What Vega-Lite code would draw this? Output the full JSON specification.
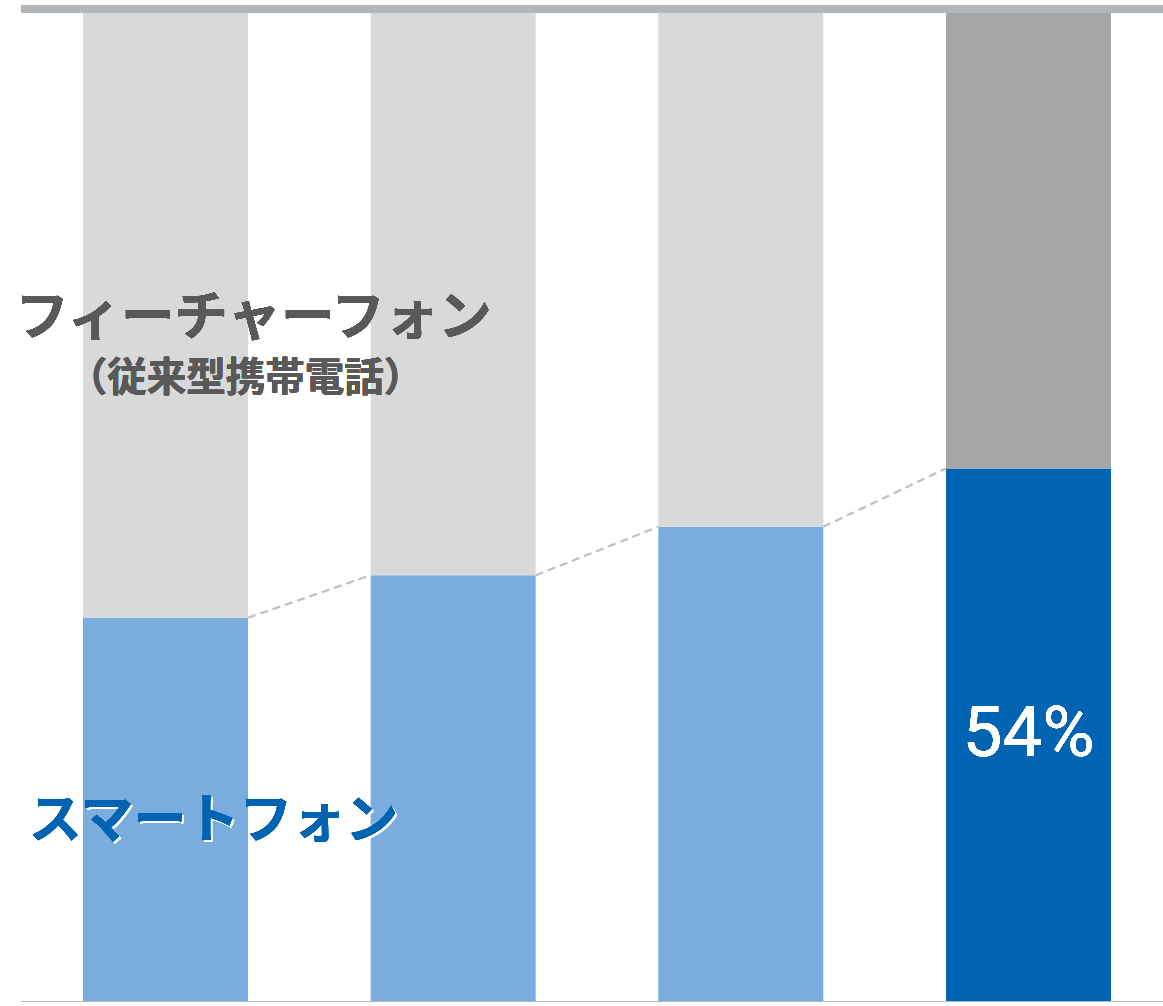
{
  "$schema": "https://vega.github.io/schema/vega-lite/v6.json",
  "width": 1152,
  "height": 989,
  "autosize": {"type": "none"},
  "padding": {"left": 21, "top": 12.5, "right": 0, "bottom": 0},
  "background": "white",
  "view": {"stroke": null},
  "datasets": {
    "shares": [
      {"period": "1", "type": "スマートフォン", "share": 38.8},
      {"period": "1", "type": "フィーチャーフォン", "share": 61.2},
      {"period": "2", "type": "スマートフォン", "share": 43.1},
      {"period": "2", "type": "フィーチャーフォン", "share": 56.9},
      {"period": "3", "type": "スマートフォン", "share": 48.0},
      {"period": "3", "type": "フィーチャーフォン", "share": 52.0},
      {"period": "4", "type": "スマートフォン", "share": 53.9},
      {"period": "4", "type": "フィーチャーフォン", "share": 46.1}
    ],
    "links": [
      {"from": "1", "to": "2", "a": 38.8, "b": 43.1},
      {"from": "2", "to": "3", "a": 43.1, "b": 48.0},
      {"from": "3", "to": "4", "a": 48.0, "b": 53.9}
    ]
  },
  "data": {"name": "shares"},
  "encoding": {
    "x": {
      "field": "period", "type": "nominal",
      "scale": {"domain": ["1", "2", "3", "4"], "paddingInner": 0.4264, "paddingOuter": 0.2155},
      "axis": null
    }
  },
  "layer": [
    {
      "mark": {"type": "bar"},
      "encoding": {
        "y": {"field": "share", "type": "quantitative", "stack": "zero", "scale": {"domain": [0, 100], "nice": false}, "axis": null},
        "detail": {"field": "type"},
        "order": {"field": "type", "sort": "ascending"},
        "fill": {
          "condition": [
            {"test": "datum.period == '4' && datum.type == 'スマートフォン'", "value": "#0064B2"},
            {"test": "datum.period == '4'", "value": "#A6A6A6"},
            {"test": "datum.type == 'スマートフォン'", "value": "#7AADDD"}
          ],
          "value": "#D9D9D9"
        }
      }
    },
    {
      "data": {"name": "links"},
      "mark": {"type": "rule", "stroke": "#BFBFBF", "strokeWidth": 2.2, "strokeDash": [8, 5]},
      "encoding": {
        "x": {"field": "from", "type": "nominal", "bandPosition": 1},
        "x2": {"field": "to", "bandPosition": 0},
        "y": {"field": "a", "type": "quantitative"},
        "y2": {"field": "b"}
      }
    },
    {
      "mark": {"type": "rule", "stroke": "#B4B7BA", "strokeWidth": 7.5, "yOffset": -3.75},
      "encoding": {"x": null, "y": {"datum": 100, "type": "quantitative"}}
    },
    {
      "mark": {"type": "rule", "stroke": "#B4B7BA", "strokeWidth": 7.5, "yOffset": 3.75},
      "encoding": {"x": null, "y": {"datum": 0, "type": "quantitative"}}
    },
    {
      "mark": {"type": "text", "font": "Noto Sans CJK JP", "fontWeight": "bold", "fontSize": 53.5, "fill": "#595959", "baseline": "middle", "align": "center", "dx": 88},
      "encoding": {"x": {"datum": "1"}, "y": {"datum": 69.0, "type": "quantitative"}, "text": {"value": "フィーチャーフォン"}}
    },
    {
      "mark": {"type": "text", "font": "Noto Sans CJK JP", "fontWeight": "bold", "fontSize": 39.5, "fill": "#595959", "baseline": "middle", "align": "center", "dx": 80},
      "encoding": {"x": {"datum": "1"}, "y": {"datum": 62.9, "type": "quantitative"}, "text": {"value": "（従来型携帯電話）"}}
    },
    {
      "mark": {"type": "text", "font": "Noto Sans CJK JP", "fontWeight": "bold", "fontSize": 53, "fill": "white", "opacity": 0.8, "baseline": "middle", "align": "center", "dx": 50, "dy": 2},
      "encoding": {"x": {"datum": "1"}, "y": {"datum": 18.2, "type": "quantitative"}, "text": {"value": "スマートフォン"}}
    },
    {
      "mark": {"type": "text", "font": "Noto Sans CJK JP", "fontWeight": "bold", "fontSize": 53, "fill": "#0064B2", "baseline": "middle", "align": "center", "dx": 48},
      "encoding": {"x": {"datum": "1"}, "y": {"datum": 18.2, "type": "quantitative"}, "text": {"value": "スマートフォン"}}
    },
    {
      "mark": {"type": "text", "font": "Roboto", "fontWeight": "normal", "fontSize": 71, "fill": "white", "baseline": "middle", "align": "center"},
      "encoding": {"x": {"datum": "4"}, "y": {"datum": 26.9, "type": "quantitative"}, "text": {"value": "54%"}}
    }
  ]
}
